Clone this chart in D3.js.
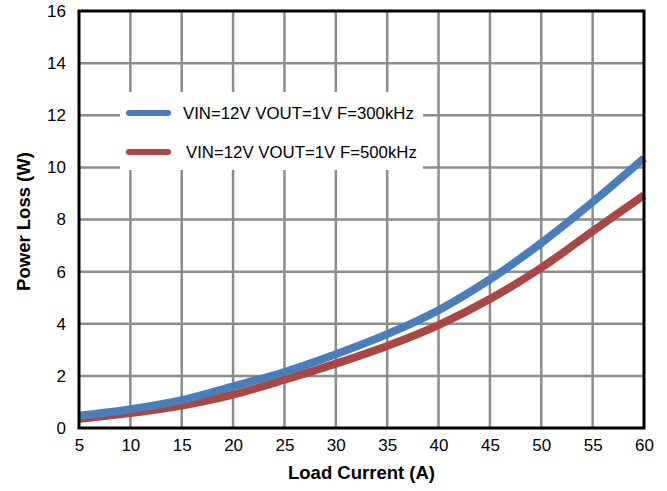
<!DOCTYPE html>
<html>
<head>
<meta charset="utf-8">
<script src="https://cdn.jsdelivr.net/npm/d3@7"></script>
<style>
  body { margin: 0; background: #fff; }
  text { font-family: Arial, "Liberation Sans", sans-serif; }
</style>
</head>
<body>
<svg id="chart" width="667" height="491"></svg>
<script>
// data
var current = [5, 10, 15, 20, 25, 30, 35, 40, 45, 50, 55, 60];
var loss300 = [0.47, 0.72, 1.07, 1.6, 2.15, 2.83, 3.6, 4.52, 5.7, 7.1, 8.67, 10.35];
var loss500 = [0.35, 0.57, 0.86, 1.28, 1.85, 2.47, 3.15, 3.95, 4.95, 6.15, 7.55, 8.93];
var xTicks = [5, 10, 15, 20, 25, 30, 35, 40, 45, 50, 55, 60];
var yTicks = [0, 2, 4, 6, 8, 10, 12, 14, 16];
var seriesNames = ["VIN=12V VOUT=1V F=300kHz", "VIN=12V VOUT=1V F=500kHz"];
var seriesColors = ["#4a7ebb", "#aa4643"];

var svg = d3.select("#chart");
// plot box (note: "top" is taken by window.top)
var pLeft = 79, pRight = 644, pTop = 11, pBottom = 428;

var x = d3.scaleLinear().domain([5, 60]).range([pLeft, pRight]);
var y = d3.scaleLinear().domain([0, 16]).range([pBottom, pTop]);

// grid
var grid = svg.append("g");
grid.selectAll(".vg").data(xTicks.slice(1, -1)).enter().append("line")
  .attr("x1", function(d) { return x(d); }).attr("x2", function(d) { return x(d); })
  .attr("y1", pTop).attr("y2", pBottom)
  .attr("stroke", "#8c8c8c").attr("stroke-width", 2.5);
grid.selectAll(".hg").data(yTicks.slice(1, -1)).enter().append("line")
  .attr("y1", function(d) { return y(d); }).attr("y2", function(d) { return y(d); })
  .attr("x1", pLeft).attr("x2", pRight)
  .attr("stroke", "#8c8c8c").attr("stroke-width", 2.5);

// axes (labels only, frame drawn below)
var xAxis = svg.append("g").attr("transform", "translate(0," + pBottom + ")")
  .call(d3.axisBottom(x).tickValues(xTicks).tickSize(0).tickPadding(11));
var yAxis = svg.append("g").attr("transform", "translate(" + pLeft + ",0)")
  .call(d3.axisLeft(y).tickValues(yTicks).tickSize(0).tickPadding(13));
[xAxis, yAxis].forEach(function(a) {
  a.select(".domain").remove();
  a.attr("font-size", 17).attr("font-family", "Arial, 'Liberation Sans', sans-serif");
  a.selectAll("text").attr("fill", "#000");
});

// series
var line = d3.line()
  .x(function(d) { return x(d[0]); })
  .y(function(d) { return y(d[1]); })
  .curve(d3.curveCatmullRom);
[loss500, loss300].forEach(function(vals, i) {
  var col = i == 0 ? seriesColors[1] : seriesColors[0];
  svg.append("path")
    .datum(d3.zip(current, vals))
    .attr("d", line)
    .attr("fill", "none")
    .attr("stroke", col)
    .attr("stroke-width", 8);
});

// frame
svg.append("rect")
  .attr("x", pLeft).attr("y", pTop)
  .attr("width", pRight - pLeft).attr("height", pBottom - pTop)
  .attr("fill", "none").attr("stroke", "#000").attr("stroke-width", 3);

// legend
var lg = svg.append("g");
lg.append("rect").attr("x", 120).attr("y", 92).attr("width", 303).attr("height", 78)
  .attr("fill", "#fff");
seriesNames.forEach(function(name, i) {
  var ly = i == 0 ? 113 : 152;
  lg.append("line").attr("x1", 129).attr("x2", 168).attr("y1", ly).attr("y2", ly)
    .attr("stroke", seriesColors[i]).attr("stroke-width", 6).attr("stroke-linecap", "round");
  lg.append("text").attr("x", i == 0 ? 183 : 186).attr("y", ly + 6)
    .attr("font-size", 16.8).text(name);
});

// titles
svg.append("text").attr("x", (pLeft + pRight) / 2).attr("y", 479)
  .attr("text-anchor", "middle").attr("font-size", 18.5).attr("font-weight", "bold")
  .text("Load Current (A)");
svg.append("text")
  .attr("transform", "translate(30," + ((pTop + pBottom) / 2 + 2) + ") rotate(-90)")
  .attr("text-anchor", "middle").attr("font-size", 18.5).attr("font-weight", "bold")
  .text("Power Loss (W)");
</script>
</body>
</html>
